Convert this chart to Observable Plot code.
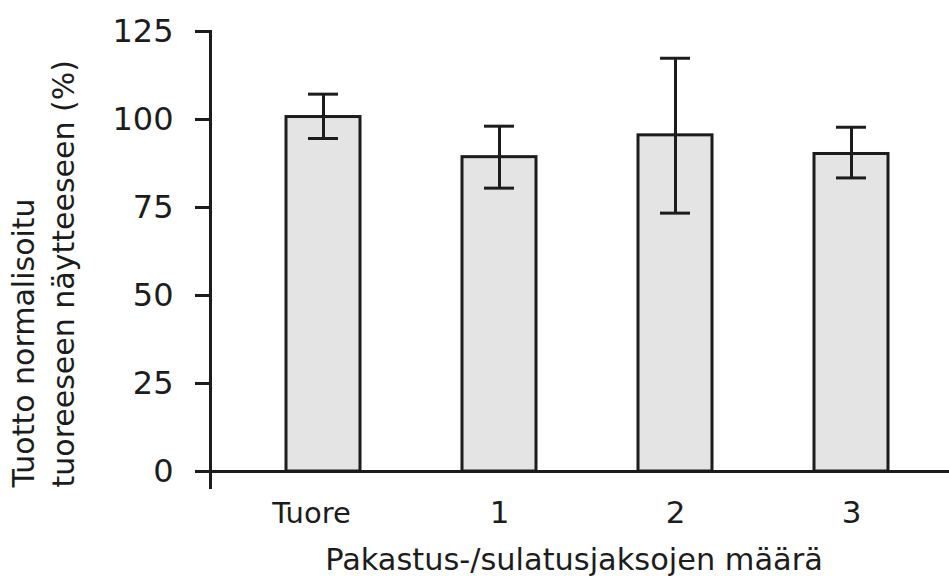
<!DOCTYPE html>
<html>
<head>
<meta charset="utf-8">
<script src="https://cdn.jsdelivr.net/npm/d3@7"></script>
<script src="https://cdn.jsdelivr.net/npm/@observablehq/plot@0.6"></script>
<style>
  html, body { margin: 0; padding: 0; background: #fff; }
</style>
</head>
<body>
<div id="chart"></div>
<script>
const categories = ["Tuore", "1", "2", "3"];
const means = [100.7, 89.3, 95.5, 90.2];
const lower = [94.6, 80.5, 73.4, 83.4];
const upper = [107.2, 98.1, 117.4, 97.8];
const yTicks = [0, 25, 50, 75, 100, 125];
const xTitle = "Pakastus-/sulatusjaksojen määrä";
const yTitle = "Tuotto normalisoitu\ntuoreeseen näytteeseen (%)";

const data = categories.map((c, i) => ({cat: c, mean: means[i], lo: lower[i], hi: upper[i]}));

const ink = "#1c1c1c";
const font = "DejaVu Sans, sans-serif";

const chart = Plot.plot({
  width: 949,
  height: 576,
  marginLeft: 210,
  marginRight: 0,
  marginTop: 31,
  marginBottom: 105,
  style: {fontFamily: font, color: ink, background: "#fff"},
  x: {domain: categories, paddingInner: 0.577, paddingOuter: 0.3845, align: 0.553, label: null},
  y: {domain: [0, 125], label: null},
  marks: [
    Plot.barY(data, {x: "cat", y: "mean", fill: "#e4e4e4", stroke: ink, strokeWidth: 3}),
    Plot.ruleX(data, {x: "cat", y1: "lo", y2: "hi", stroke: ink, strokeWidth: 3}),
    Plot.tickY(data, {x: "cat", y: "lo", stroke: ink, strokeWidth: 3, insetLeft: 22, insetRight: 22}),
    Plot.tickY(data, {x: "cat", y: "hi", stroke: ink, strokeWidth: 3, insetLeft: 22, insetRight: 22}),
    Plot.ruleY([0], {stroke: ink, strokeWidth: 3, insetLeft: -15}),
    Plot.frame({anchor: "left", stroke: ink, strokeWidth: 3, insetBottom: -16}),
    Plot.axisY({ticks: yTicks, tickSize: 15, tickPadding: 22, fontSize: 32, stroke: ink, strokeWidth: 3, label: null, fill: ink}),
    Plot.axisX({ticks: categories.slice(0, 1), tickSize: 0, tickPadding: 31, dx: -12, fontSize: 29, label: null, fill: ink}),
    Plot.axisX({ticks: categories.slice(1), tickSize: 0, tickPadding: 29, fontSize: 31, label: null, fill: ink}),
    Plot.text([xTitle], {frameAnchor: "bottom", dx: -6, dy: 98, lineAnchor: "bottom", fontSize: 30.4, fill: ink}),
    Plot.text([yTitle], {frameAnchor: "bottom-left", dx: -137, dy: 16, rotate: -90, textAnchor: "start", lineAnchor: "bottom", lineHeight: 1.33, fontSize: 30, fill: ink})
  ]
});
document.getElementById("chart").appendChild(chart);
</script>
</body>
</html>
